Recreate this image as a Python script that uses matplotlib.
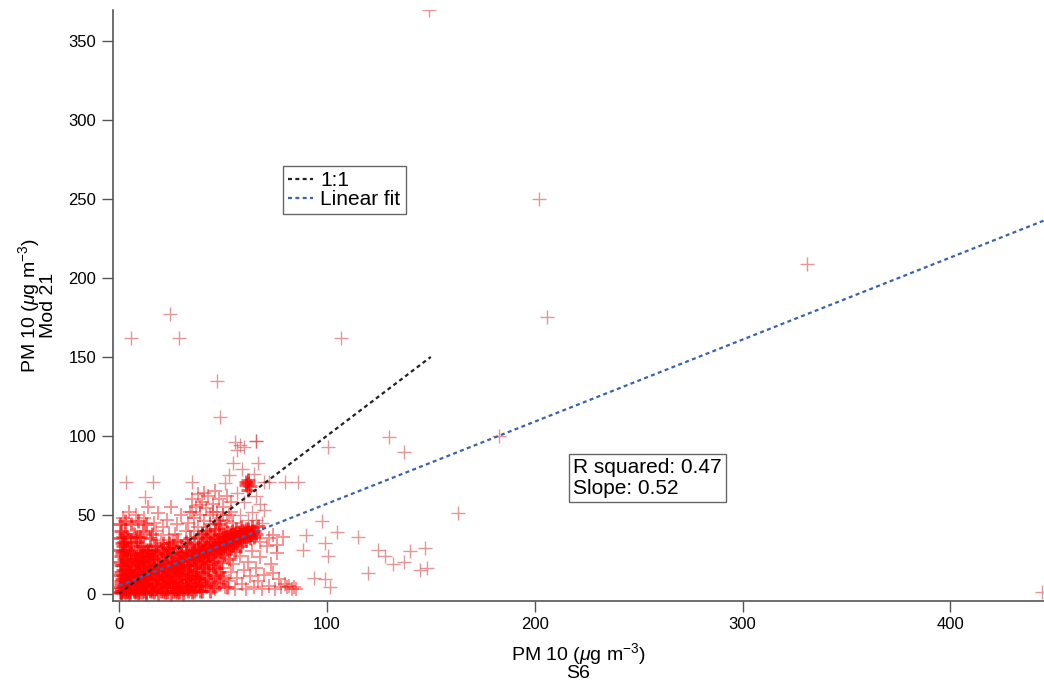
import matplotlib
matplotlib.use("Agg")
import matplotlib.pyplot as plt

plt.rcParams.update({
    'font.family': ['Liberation Sans', 'DejaVu Sans'],
    'mathtext.fontset': 'custom',
    'mathtext.rm': 'Liberation Sans',
    'mathtext.it': 'Liberation Sans:italic',
})

# dense band along the fit, near the origin
core = [(0.5,1),(1,3),(1,6),(1.5,9),(2,2),(2,12),(2.5,5),(3,15),(3,8),(3.5,1),(4,4),(4,11),(4.5,18),
        (5,7),(5,2),(5.5,14),(6,21),(6,9),(6.5,4),(7,12),(7,17),(7.5,1),(8,6),(8,24),(8.5,10),(9,15),
        (9,3),(9.5,19),(10,8),(10,12),(10.5,26),(11,5),(11,16),(11.5,21),(12,2),(12,10),(12.5,14),
        (13,18),(13,7),(13.5,24),(14,12),(14,4),(14.5,16),(15,20),(15,9),(15.5,28),(16,13),(16,2),
        (16.5,18),(17,6),(17,22),(17.5,11),(18,15),(18,25),(18.5,4),(19,19),(19,9),(19.5,13),(20,22),
        (20,2),(20.5,17),(21,7),(21,27),(21.5,12),(22,20),(22,15),(22.5,4),(23,24),(23,10),(23.5,18),
        (24,14),(24,29),(24.5,21),(25,6),(25,17),(25.5,25),(26,12),(26,2),(26.5,20),(27,16),(27,27),
        (27.5,8),(28,23),(28,19),(28.5,13),(29,26),(29,4),(29.5,21),(30,17),(30,30),(30.5,10),(31,24),
        (31,20),(31.5,14),(32,27),(32,6),(32.5,22),(33,18),(33,30),(33.5,12),(34,25),(34,21),(34.5,3),
        (35,28),(35,16),(35.5,23),(36,19),(36,32),(36.5,9),(37,26),(37,22),(37.5,14),(38,29),(38,24),
        (38.5,5),(39,20),(39,31),(39.5,27),(40,23),(40,17),(40.5,33),(41,26),(41,12),(41.5,29),(42,22),
        (42,35),(42.5,25),(43,31),(43,19),(43.5,27),(44,24),(44,33),(44.5,8),(45,29),(45,21),(45.5,36),
        (46,26),(46,31),(46.5,16),(47,28),(47,34),(47.5,23),(48,30),(48,37),(48.5,27),(49,32),(49,20),
        (49.5,35),(50,29),(50,38),(50.5,25),(51,33),(51,30),(51.5,36),(52,28),(52,39),(52.5,34),(53,31),
        (53,22),(53.5,37),(54,33),(54,29),(54.5,40),(55,35),(55,31),(55.5,38),(56,34),(56,27),(56.5,41),
        (57,36),(57,32),(57.5,39),(58,35),(58,30),(58.5,42),(59,37),(59,33),(60,40),(60,36),(61,38),
        (61,34),(62,41),(62,37),(63,39),(63,35),(64,42),(64,38),(65,40),(65,36),(66,38),(67,43)]

core_fill = [(1,1),(2,4),(3,6),(4,2),(5,10),(6,6),(7,8),(8,2),(9,11),(10,4),(11,8),(12,13),(13,4),(14,9),
             (15,14),(16,6),(17,15),(18,9),(19,16),(20,6),(21,18),(22,10),(23,15),(24,8),(25,20),(26,15),
             (27,11),(28,16),(29,22),(30,13),(31,18),(32,24),(33,15),(34,18),(35,25),(36,22),(37,18),
             (38,27),(39,24),(40,28),(41,21),(42,30),(43,25),(44,28),(45,32),(46,29),(47,31),(48,33),
             (49,29),(50,33),(51,36),(52,32),(53,35),(54,37),(55,33),(56,37),(57,35),(58,38),(59,40),
             (60,38),(61,41),(62,39),(63,37),(64,40),(2,18),(4,22),(6,26),(8,20),(10,22),(12,26),(14,28),
             (16,24),(18,30),(20,28),(22,26),(24,32),(26,30),(28,34),(30,26),(32,33),(34,35),(36,28),
             (38,36),(40,38),(42,40),(44,38),(46,41),(48,44),(5,15),(7,25),(9,20),(11,24),(13,28),(15,24),
             (17,30),(19,26),(21,32),(23,29),(3,12),(1,14),(0.5,20),(1,24),(2,27),(0.5,28),(1.5,32),
             (3,38),(0.5,44),(18,3),(20,8),(22,1),(24,4),(26,7),(28,1),(30,5),(32,9),(34,7),(36,2),
             (38,10),(40,2),(42,5),(44,2),(23,7),(27,5),(31,3),(35,11),(39,7),(43,15)]

lower_fill = [(16,10),(19,5),(21,12),(24,11),(26,4),(29,8),(30,15),(33,5),(34,12),(37,8),(39,14),(41,6),
              (43,10),(45,4),(46,12),(48,6),(17,18),(20,14),(25,13),(29,17),(33,9),(37,11),(41,16),
              (45,18),(48,14),(50,10),(52,4),(12,17),(14,26),(10,30),(8,36),(6,33),(4,28),(2,36)]

origin = [(0.5,4),(1,8),(1.5,2),(2,15),(2.5,10),(3,3),(3.5,20),(4,7),(4.5,13),(5,25),(5.5,1),(6,16),
          (6.5,11),(7,3),(7.5,22),(8,14),(8.5,7),(9,27),(9.5,1),(10,18),(10.5,5),(11,11),(11.5,30),
          (12,20),(12.5,6),(13,1),(13.5,13),(14,22),(14.5,9),(15,3),(0.5,12),(1,18),(1.5,26),(2,30),
          (2.5,22),(3,28),(0.3,35),(1,40),(2.5,33),(4,36),(5.5,31),(7,38),(8.5,33),(10,36),(11.5,40),
          (6,44),(3,46),(9,46),(13,44),(15,35),(16,38)]

hot_spot = [(61,69),(62,72),(63,68),(62,66),(61,71),(62,70)]

bottom = [(1,0.5),(3,1),(5,0),(7,2),(9,0.5),(11,1),(13,0),(15,2),(17,1),(19,0),(21,2),(23,1),(25,0),
          (27,2),(29,1),(31,0),(33,2),(35,1),(37,3),(39,2),(28,3),(32,4),(36,5)]

upper_left = [(2,48),(5,52),(8,50),(12,48),(14,55),(17,45),(19,51),(21,42),(23,47),(25,55),(27,38),
              (28,44),(30,50),(32,40),(24,37),(20,34),(18,40),(26,33)]

upper_patch = [(33,45),(34,52),(35,60),(36,48),(37,55),(38,63),(38,42),(39,50),(40,58),(41,46),(42,54),
               (43,62),(43,40),(44,50),(45,57),(46,44),(46,65),(47,52),(48,60),(49,47),(50,55),(51,42),
               (52,62),(53,50),(54,58),(55,45),(36,40),(40,38),(44,44),(48,41),(52,46),(35,52),(39,56),
               (45,52),(50,50),(41,64),(47,46),(54,52)]

lower_right = [(40,5),(42,9),(44,13),(46,3),(47,7),(49,11),(50,16),(51,4),(53,8),(54,14),(55,19),(56,3),
               (57,10),(58,24),(59,6),(60,15),(61,3),(62,20),(63,11),(64,27),(65,4),(66,16),(67,8),
               (68,23),(69,3),(70,12),(71,30),(72,5),(73,19),(74,13),(75,3),(76,26),(77,9),(78,4),
               (79,36),(80,6),(81,4),(82,5),(83,3),(84,4),(85,3),(76,31),(72,35),(68,33),(74,37)]

spray = [(56,96),(58,94),(57,91),(60,93),(66,97),(67,83),(55,83),(59,79),(65,76),(70,71),(72,71),
         (51,70),(53,75),(57,64),(66,62),(68,57),(70,53),(60,58),(64,52),(58,50),(62,47),(66,47),
         (69,45),(80,71),(86,71),(12.5,61),(3.4,71),(16.5,71),(35,71)]

outliers = [(149,370),(202,250),(206,175),(331,209),(444,1),(6,162),(24.5,177),(29,162),(107,162),
            (47,135),(48.6,112),(66,97),(100.6,93),(97.5,46),(105,39),(90,37),(99,32),(88.6,28),
            (100.6,24),(94,10),(99,9),(101.5,4.5),(115,36),(120,13),(124.6,28),(130,99),(137,90),
            (140,27),(137,20),(132,19),(128,24),(147,29),(148,16),(163,51),(183,100),(145,15)]

fit_slope = 0.52
fit_icpt = 5.0
r_squared = 0.47

dense = [core, core_fill, lower_fill, origin, hot_spot, bottom]
medium = [upper_left, upper_patch, lower_right]
sparse = [spray, outliers]

fig = plt.figure(figsize=(10.44, 6.89), dpi=100)
ax = fig.add_axes([0.108, 0.128, 0.892, 0.858])


def draw(groups, ms, mew, color, alpha):
    xs = [p[0] for g in groups for p in g]
    ys = [p[1] for g in groups for p in g]
    ax.plot(xs, ys, linestyle='none', marker='+', markersize=ms, markeredgewidth=mew,
            color=color, alpha=alpha)


draw(sparse, 9.5, 1.0, (0.82, 0.25, 0.25), 0.55)
draw(medium, 9.5, 1.3, (0.95, 0.1, 0.1), 0.5)
draw(dense, 10, 2.0, (1.0, 0.0, 0.0), 0.65)

l1, = ax.plot([0, 150], [0, 150], color='#222222', lw=1.6, linestyle=(0, (1.8, 1.5)), label='1:1')
x_end = 445
l2, = ax.plot([0, x_end], [fit_icpt, fit_icpt + fit_slope * x_end], color='#3a62ad', lw=1.6,
              linestyle=(0, (1.8, 1.5)), label='Linear fit')

ax.set_xlim(-3, 445)
ax.set_ylim(-4.5, 370)
ax.set_xticks([0, 100, 200, 300, 400])
ax.set_yticks([0, 50, 100, 150, 200, 250, 300, 350])
for s in ['top', 'right']:
    ax.spines[s].set_visible(False)
for s in ['left', 'bottom']:
    ax.spines[s].set_color('#555555')
    ax.spines[s].set_linewidth(1.2)
ax.tick_params(direction='out', length=8, width=1, color='#555555', labelsize=12, pad=4)

ax.set_xlabel('PM 10 ($\\mu$g m$^{-3}$)\nS6', fontsize=14, linespacing=0.85, labelpad=6)
ax.set_ylabel('PM 10 ($\\mu$g m$^{-3}$)\nMod 21', fontsize=14, linespacing=0.85, labelpad=8)

leg = fig.legend(handles=[l1, l2], loc='upper left', bbox_to_anchor=(283 / 1044, 1 - 166 / 689),
                 fancybox=False, edgecolor='#666666', framealpha=1, fontsize=15,
                 handlelength=1.2, handletextpad=0.35, borderpad=0.25, labelspacing=0.0,
                 borderaxespad=0)
leg.get_frame().set_linewidth(1.0)

ax.text(573 / 1044, 1 - 458 / 689, f'R squared: {r_squared:.2f}\nSlope: {fit_slope:.2f}',
        transform=fig.transFigure, fontsize=15, va='top', ha='left', linespacing=1.1,
        bbox=dict(boxstyle='square,pad=0.2', fc='white', ec='#666666', lw=1.0))

fig.savefig('out.png', dpi=100)
